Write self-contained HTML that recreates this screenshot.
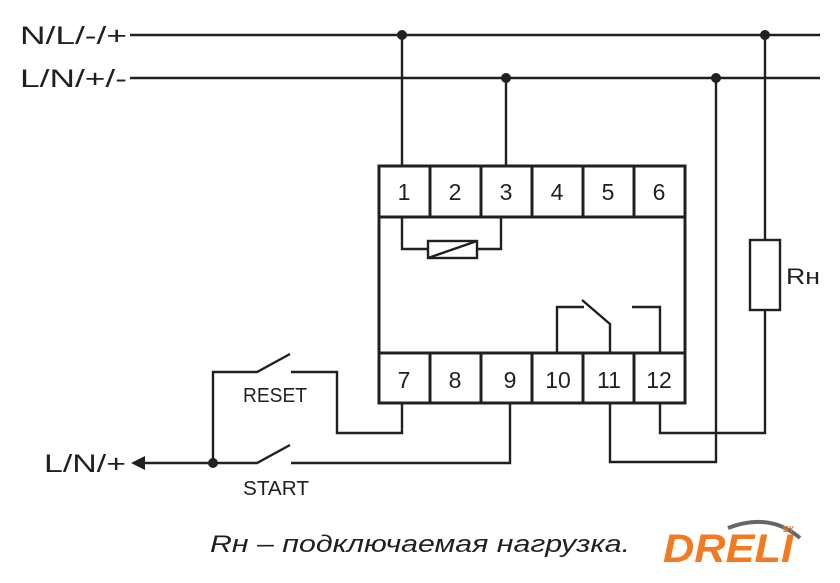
<!DOCTYPE html>
<html><head><style>
body{margin:0;background:#fff}
svg text{font-family:"Liberation Sans",sans-serif;fill:#231f20}
</style></head><body>
<svg width="840" height="578" viewBox="0 0 840 578" xmlns="http://www.w3.org/2000/svg">
<g stroke="#231f20" stroke-width="2.4" fill="none">
<line x1="130" y1="35" x2="820" y2="35"/>
<line x1="130" y1="78" x2="820" y2="78"/>
<line x1="402" y1="35" x2="402" y2="166"/>
<line x1="506" y1="78" x2="506" y2="166"/>
<polyline points="765,35 765,240"/>
<rect x="750" y="240" width="30" height="70"/>
<polyline points="765,310 765,433 660,433 660,403"/>
<polyline points="716,78 716,462 610,462 610,403"/>
<rect x="379" y="166" width="306" height="237" stroke-width="3"/>
<line x1="379" y1="217" x2="685" y2="217" stroke-width="3"/>
<line x1="379" y1="353" x2="685" y2="353" stroke-width="3"/>
<g stroke-width="3">
<line x1="430" y1="166" x2="430" y2="217"/><line x1="481" y1="166" x2="481" y2="217"/><line x1="532" y1="166" x2="532" y2="217"/><line x1="583" y1="166" x2="583" y2="217"/><line x1="634" y1="166" x2="634" y2="217"/>
<line x1="430" y1="353" x2="430" y2="403"/><line x1="481" y1="353" x2="481" y2="403"/><line x1="532" y1="353" x2="532" y2="403"/><line x1="583" y1="353" x2="583" y2="403"/><line x1="634" y1="353" x2="634" y2="403"/>
</g>
<polyline points="402,217 402,249 428,249"/>
<rect x="428" y="241" width="49" height="17"/>
<line x1="428" y1="258" x2="477" y2="241"/>
<polyline points="477,249 501,249 501,217"/>
<polyline points="557,353 557,307 584,307"/>
<polyline points="582,300 610,324 610,353"/>
<polyline points="632,307 660,307 660,353"/>
<polyline points="402,403 402,433 337,433 337,372 291,372"/>
<polyline points="213,463 213,372 257,372 290,354"/>
<polyline points="143,463 257,463 290,445"/>
<polyline points="291,463 510,463 510,403"/>
</g>
<polygon points="131,463 145,456 145,470" fill="#231f20"/>
<g fill="#231f20">
<circle cx="402" cy="35" r="5"/><circle cx="506" cy="78" r="5"/><circle cx="765" cy="35" r="5"/><circle cx="716" cy="78" r="5"/><circle cx="213" cy="463" r="5"/>
</g>
<g font-size="23" text-anchor="middle">
<text x="404" y="200">1</text><text x="455" y="200">2</text><text x="506" y="200">3</text><text x="557" y="200">4</text><text x="608" y="200">5</text><text x="659" y="200">6</text>
<text x="404" y="388">7</text><text x="455" y="388">8</text><text x="510" y="388">9</text><text x="558" y="388">10</text><text x="609" y="388">11</text><text x="659" y="388">12</text>
</g>
<text x="20" y="44" font-size="25" textLength="107" lengthAdjust="spacingAndGlyphs">N/L/-/+</text>
<text x="20" y="87" font-size="25" textLength="107" lengthAdjust="spacingAndGlyphs">L/N/+/-</text>
<text x="44" y="472" font-size="25" textLength="82" lengthAdjust="spacingAndGlyphs">L/N/+</text>
<text x="243" y="402" font-size="20" textLength="64" lengthAdjust="spacingAndGlyphs">RESET</text>
<text x="243" y="495" font-size="20" textLength="66" lengthAdjust="spacingAndGlyphs">START</text>
<text x="786" y="284" font-size="22" textLength="34" lengthAdjust="spacingAndGlyphs">Rн</text>
<text x="210" y="552" font-size="24" font-style="italic" textLength="420" lengthAdjust="spacingAndGlyphs">Rн – подключаемая нагрузка.</text>
<path d="M728 528 Q770 512 800 538" stroke="#666" stroke-width="4" fill="none"/>
<text x="663" y="562" font-size="40" font-weight="bold" font-style="italic" style="fill:#f47a20" textLength="130" lengthAdjust="spacingAndGlyphs">DRELI</text>
<text x="783" y="532" font-size="8" font-weight="bold" style="fill:#f47a20">BY</text>
</svg>
</body></html>
